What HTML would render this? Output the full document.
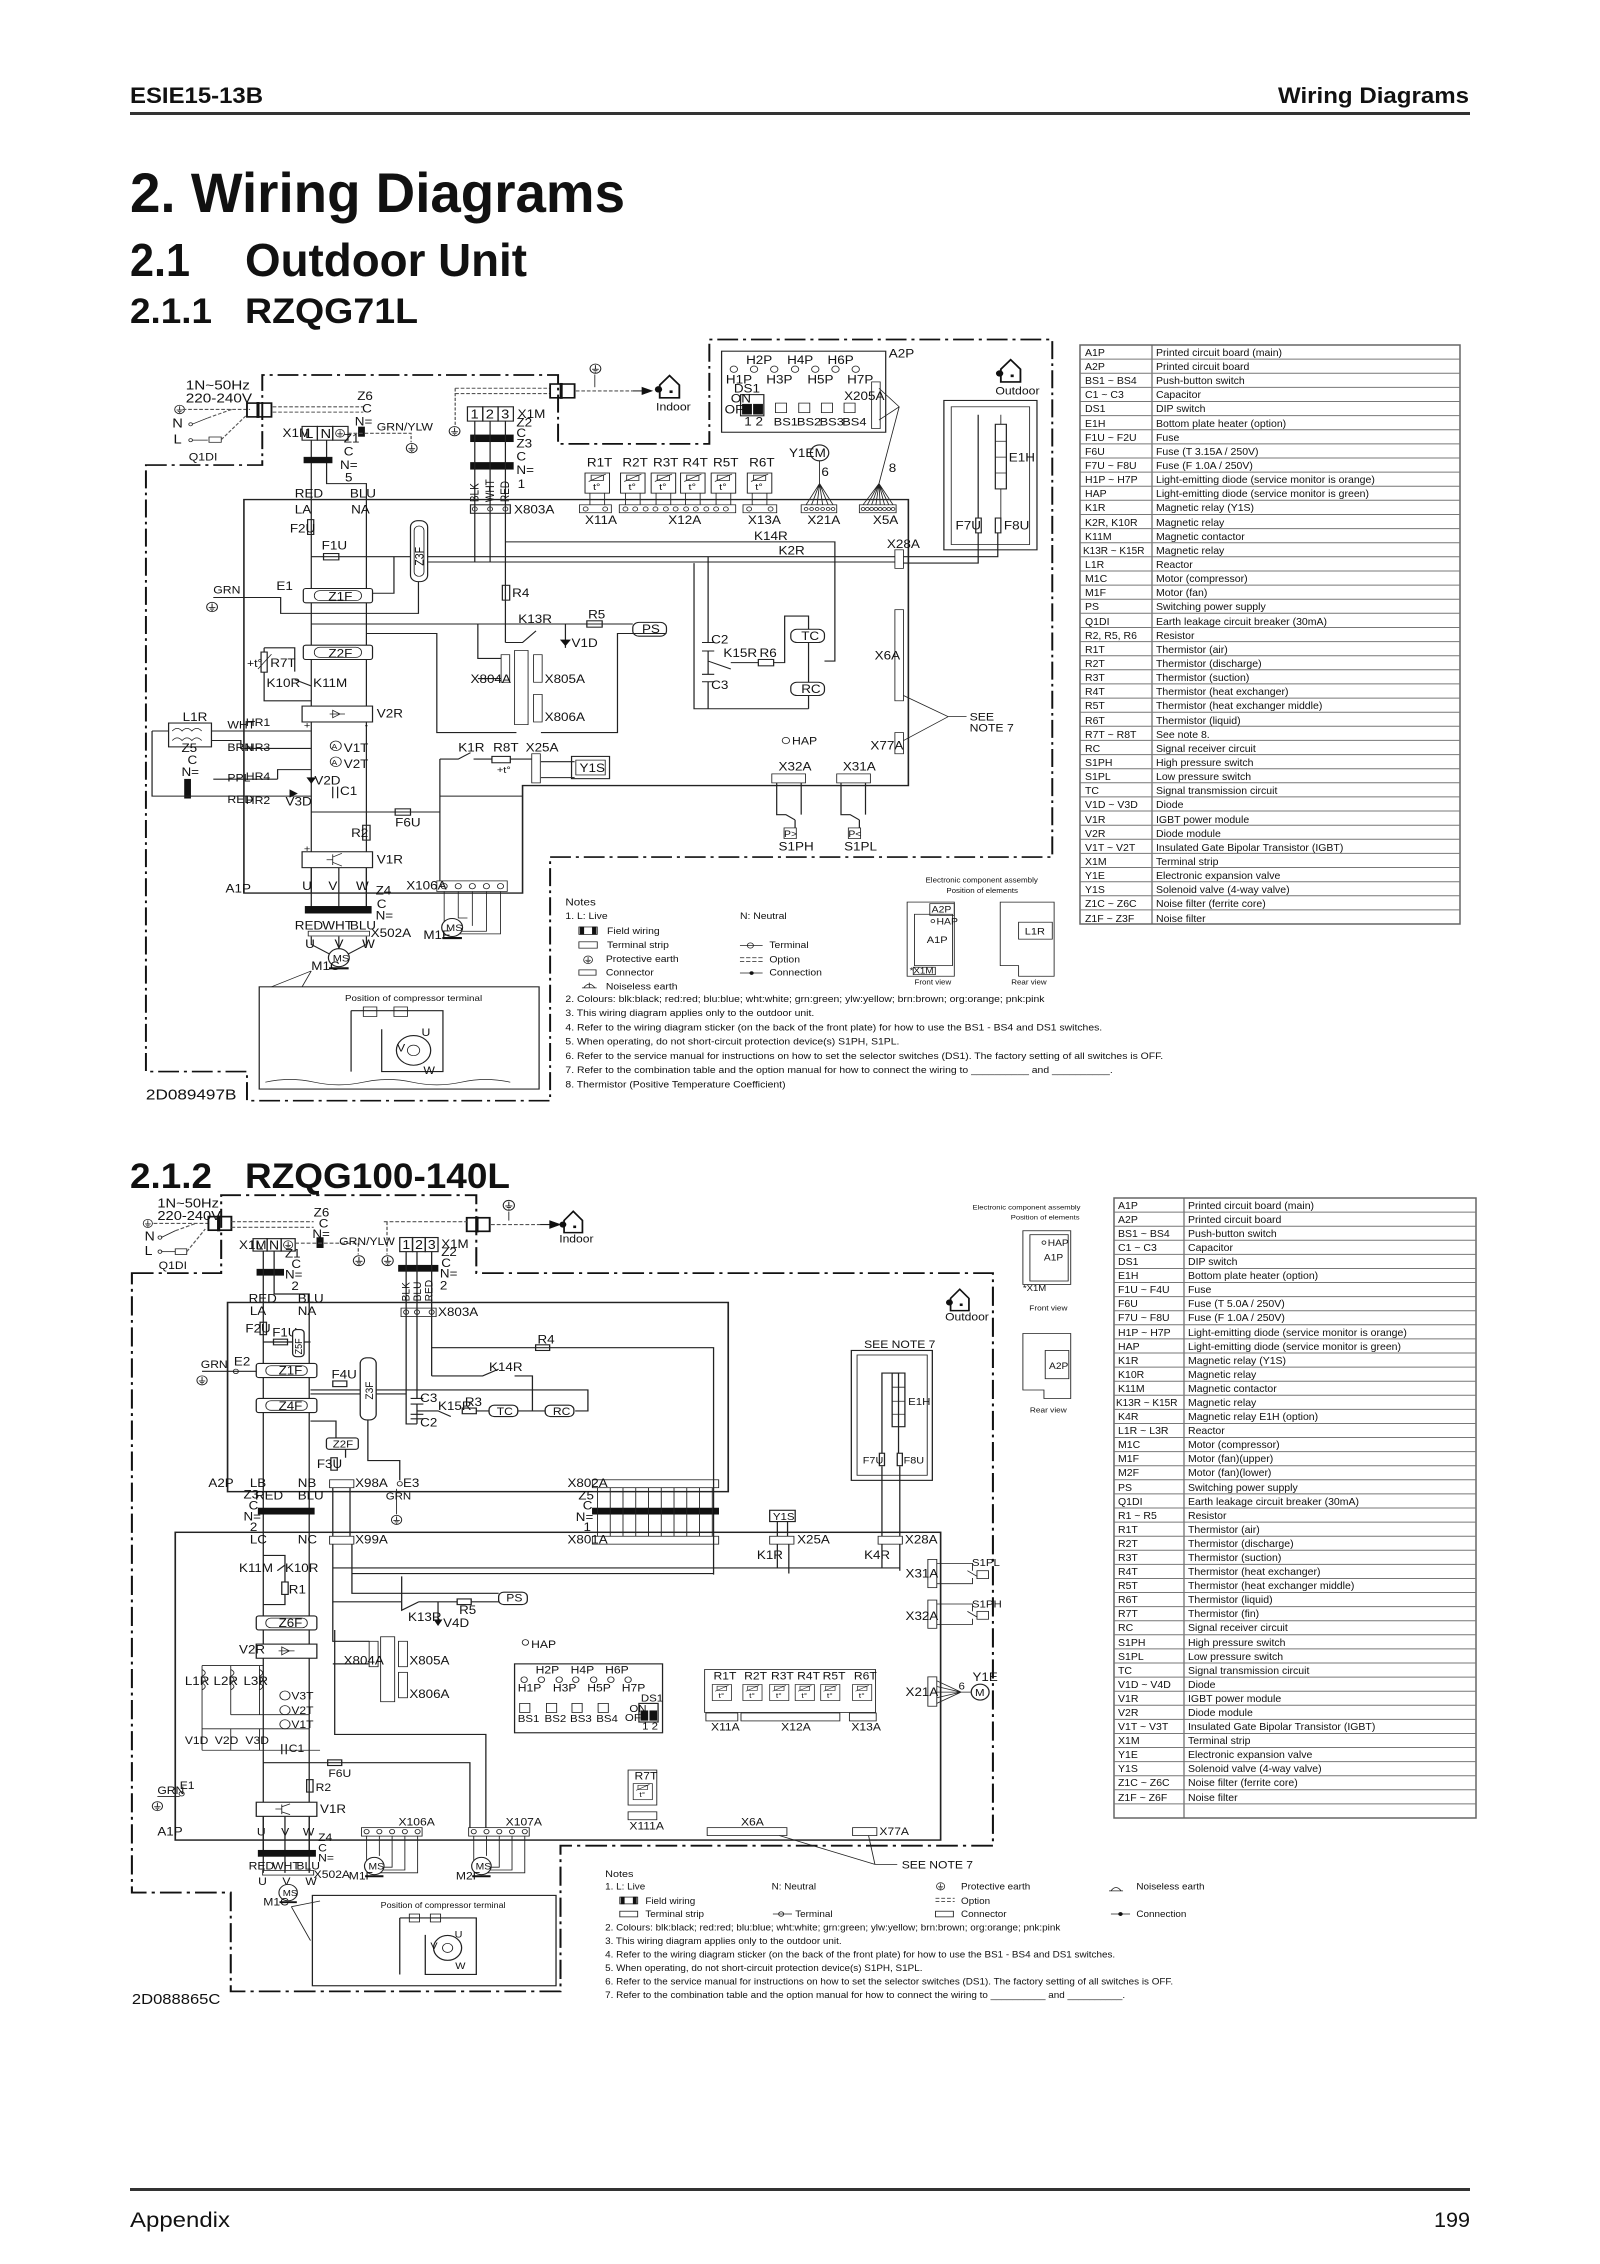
<!DOCTYPE html>
<html><head><meta charset="utf-8"><style>
html,body{margin:0;padding:0;background:#fff}
svg{display:block}
text{font-family:"Liberation Sans",Arial,sans-serif;fill:#111}
.w{stroke:#222;stroke-width:2;fill:none}
.t{stroke:#222;stroke-width:1.4;fill:none}
.b{fill:#111;stroke:#111}
.dd{stroke:#111;stroke-width:3.2;fill:none;stroke-dasharray:34 8 5 8}
.hd{stroke:#555;stroke-width:2;fill:none;stroke-dasharray:6 3}
.bd{stroke:#222;stroke-width:2.6;fill:none}
.cap{fill:#fff;stroke:#222;stroke-width:2}
</style></head><body>
<svg width="1600" height="2264" viewBox="0 0 1600 2264" xmlns="http://www.w3.org/2000/svg">
<defs>
<symbol id="earth" viewBox="-10 -10 20 20" overflow="visible"><circle cx="0" cy="0" r="8" fill="none" stroke="#222" stroke-width="1.5"/><line x1="0" y1="-6" x2="0" y2="1" stroke="#222" stroke-width="1.5"/><line x1="-5" y1="1" x2="5" y2="1" stroke="#222" stroke-width="1.5"/><line x1="-3" y1="3.5" x2="3" y2="3.5" stroke="#222" stroke-width="1.5"/><line x1="-1" y1="6" x2="1" y2="6" stroke="#222" stroke-width="1.5"/></symbol>
<symbol id="house" viewBox="0 0 44 50" overflow="visible"><path d="M6 22 L22 4 L38 22 V46 H6 Z" fill="none" stroke="#111" stroke-width="3"/><circle cx="4" cy="30" r="6" fill="#111"/><rect x="22" y="32" width="5" height="5" fill="#111"/></symbol>
<symbol id="therm" viewBox="0 0 40 40" overflow="visible"><rect x="0" y="0" width="40" height="38" fill="none" stroke="#222" stroke-width="1.6"/><rect x="10" y="4" width="20" height="10" fill="none" stroke="#222" stroke-width="1.4"/><line x1="6" y1="16" x2="34" y2="2" stroke="#222" stroke-width="1.4"/><text x="13" y="32" font-size="18">t°</text></symbol>
<symbol id="mot" viewBox="-20 -20 40 40" overflow="visible"><circle r="17" fill="#fff" stroke="#222" stroke-width="2"/><text x="-10" y="7" font-size="18">MS</text><line x1="-16" y1="20" x2="16" y2="20" stroke="#111" stroke-width="4"/></symbol>
</defs>

<!-- HEADER -->
<text x="130" y="103" font-size="22" font-weight="bold" textLength="133" lengthAdjust="spacingAndGlyphs">ESIE15-13B</text>
<text x="1278" y="103" font-size="22" font-weight="bold" textLength="191" lengthAdjust="spacingAndGlyphs">Wiring Diagrams</text>
<rect x="130" y="112" width="1340" height="3" fill="#333"/>
<text x="130" y="212" font-size="56" font-weight="bold" textLength="495" lengthAdjust="spacingAndGlyphs">2. Wiring Diagrams</text>
<text x="130" y="276" font-size="46" font-weight="bold" textLength="60" lengthAdjust="spacingAndGlyphs">2.1</text>
<text x="245" y="276" font-size="46" font-weight="bold" textLength="282" lengthAdjust="spacingAndGlyphs">Outdoor Unit</text>
<text x="130" y="323" font-size="35" font-weight="bold" textLength="82" lengthAdjust="spacingAndGlyphs">2.1.1</text>
<text x="245" y="323" font-size="35" font-weight="bold" textLength="173" lengthAdjust="spacingAndGlyphs">RZQG71L</text>
<text x="130" y="1188" font-size="35" font-weight="bold" textLength="82" lengthAdjust="spacingAndGlyphs">2.1.2</text>
<text x="245" y="1188" font-size="35" font-weight="bold" textLength="265" lengthAdjust="spacingAndGlyphs">RZQG100-140L</text>

<!-- FOOTER -->
<rect x="130" y="2188" width="1340" height="3" fill="#333"/>
<text x="130" y="2227" font-size="21" textLength="100" lengthAdjust="spacingAndGlyphs">Appendix</text>
<text x="1434" y="2227" font-size="21" textLength="36" lengthAdjust="spacingAndGlyphs">199</text>

<!-- TABLE 1 -->
<g font-size="10.5">
<rect x="1080" y="345" width="380" height="579" fill="none" stroke="#666" stroke-width="1.5"/>
<line x1="1152" y1="345" x2="1152" y2="924" stroke="#666" stroke-width="1.2"/>
<g stroke="#777" stroke-width="1">
<line x1="1080" y1="359.1" x2="1460" y2="359.1"/><line x1="1080" y1="373.2" x2="1460" y2="373.2"/><line x1="1080" y1="387.4" x2="1460" y2="387.4"/><line x1="1080" y1="401.5" x2="1460" y2="401.5"/><line x1="1080" y1="415.6" x2="1460" y2="415.6"/><line x1="1080" y1="429.7" x2="1460" y2="429.7"/><line x1="1080" y1="443.9" x2="1460" y2="443.9"/><line x1="1080" y1="458" x2="1460" y2="458"/><line x1="1080" y1="472.1" x2="1460" y2="472.1"/><line x1="1080" y1="486.2" x2="1460" y2="486.2"/><line x1="1080" y1="500.3" x2="1460" y2="500.3"/><line x1="1080" y1="514.5" x2="1460" y2="514.5"/><line x1="1080" y1="528.6" x2="1460" y2="528.6"/><line x1="1080" y1="542.7" x2="1460" y2="542.7"/><line x1="1080" y1="556.8" x2="1460" y2="556.8"/><line x1="1080" y1="571" x2="1460" y2="571"/><line x1="1080" y1="585.1" x2="1460" y2="585.1"/><line x1="1080" y1="599.2" x2="1460" y2="599.2"/><line x1="1080" y1="613.3" x2="1460" y2="613.3"/><line x1="1080" y1="627.5" x2="1460" y2="627.5"/><line x1="1080" y1="641.6" x2="1460" y2="641.6"/><line x1="1080" y1="655.7" x2="1460" y2="655.7"/><line x1="1080" y1="669.8" x2="1460" y2="669.8"/><line x1="1080" y1="683.9" x2="1460" y2="683.9"/><line x1="1080" y1="698.1" x2="1460" y2="698.1"/><line x1="1080" y1="712.2" x2="1460" y2="712.2"/><line x1="1080" y1="726.3" x2="1460" y2="726.3"/><line x1="1080" y1="740.4" x2="1460" y2="740.4"/><line x1="1080" y1="754.6" x2="1460" y2="754.6"/><line x1="1080" y1="768.7" x2="1460" y2="768.7"/><line x1="1080" y1="782.8" x2="1460" y2="782.8"/><line x1="1080" y1="796.9" x2="1460" y2="796.9"/><line x1="1080" y1="811" x2="1460" y2="811"/><line x1="1080" y1="825.2" x2="1460" y2="825.2"/><line x1="1080" y1="839.3" x2="1460" y2="839.3"/><line x1="1080" y1="853.4" x2="1460" y2="853.4"/><line x1="1080" y1="867.5" x2="1460" y2="867.5"/><line x1="1080" y1="881.7" x2="1460" y2="881.7"/><line x1="1080" y1="895.8" x2="1460" y2="895.8"/><line x1="1080" y1="909.9" x2="1460" y2="909.9"/>
</g>
<g>
<text x="1085" y="356">A1P</text><text x="1156" y="356">Printed circuit board (main)</text>
<text x="1085" y="370">A2P</text><text x="1156" y="370">Printed circuit board</text>
<text x="1085" y="384">BS1 ~ BS4</text><text x="1156" y="384">Push-button switch</text>
<text x="1085" y="398">C1 ~ C3</text><text x="1156" y="398">Capacitor</text>
<text x="1085" y="412">DS1</text><text x="1156" y="412">DIP switch</text>
<text x="1085" y="427">E1H</text><text x="1156" y="427">Bottom plate heater (option)</text>
<text x="1085" y="441">F1U ~ F2U</text><text x="1156" y="441">Fuse</text>
<text x="1085" y="455">F6U</text><text x="1156" y="455">Fuse (T 3.15A / 250V)</text>
<text x="1085" y="469">F7U ~ F8U</text><text x="1156" y="469">Fuse (F 1.0A / 250V)</text>
<text x="1085" y="483">H1P ~ H7P</text><text x="1156" y="483">Light-emitting diode (service monitor is orange)</text>
<text x="1085" y="497">HAP</text><text x="1156" y="497">Light-emitting diode (service monitor is green)</text>
<text x="1085" y="511">K1R</text><text x="1156" y="511">Magnetic relay (Y1S)</text>
<text x="1085" y="526">K2R, K10R</text><text x="1156" y="526">Magnetic relay</text>
<text x="1085" y="540">K11M</text><text x="1156" y="540">Magnetic contactor</text>
<text x="1083" y="554" font-size="10">K13R ~ K15R</text><text x="1156" y="554">Magnetic relay</text>
<text x="1085" y="568">L1R</text><text x="1156" y="568">Reactor</text>
<text x="1085" y="582">M1C</text><text x="1156" y="582">Motor (compressor)</text>
<text x="1085" y="596">M1F</text><text x="1156" y="596">Motor (fan)</text>
<text x="1085" y="610">PS</text><text x="1156" y="610">Switching power supply</text>
<text x="1085" y="625">Q1DI</text><text x="1156" y="625">Earth leakage circuit breaker (30mA)</text>
<text x="1085" y="639">R2, R5, R6</text><text x="1156" y="639">Resistor</text>
<text x="1085" y="653">R1T</text><text x="1156" y="653">Thermistor (air)</text>
<text x="1085" y="667">R2T</text><text x="1156" y="667">Thermistor (discharge)</text>
<text x="1085" y="681">R3T</text><text x="1156" y="681">Thermistor (suction)</text>
<text x="1085" y="695">R4T</text><text x="1156" y="695">Thermistor (heat exchanger)</text>
<text x="1085" y="709">R5T</text><text x="1156" y="709">Thermistor (heat exchanger middle)</text>
<text x="1085" y="724">R6T</text><text x="1156" y="724">Thermistor (liquid)</text>
<text x="1085" y="738">R7T ~ R8T</text><text x="1156" y="738">See note 8.</text>
<text x="1085" y="752">RC</text><text x="1156" y="752">Signal receiver circuit</text>
<text x="1085" y="766">S1PH</text><text x="1156" y="766">High pressure switch</text>
<text x="1085" y="780">S1PL</text><text x="1156" y="780">Low pressure switch</text>
<text x="1085" y="794">TC</text><text x="1156" y="794">Signal transmission circuit</text>
<text x="1085" y="808">V1D ~ V3D</text><text x="1156" y="808">Diode</text>
<text x="1085" y="823">V1R</text><text x="1156" y="823">IGBT power module</text>
<text x="1085" y="837">V2R</text><text x="1156" y="837">Diode module</text>
<text x="1085" y="851">V1T ~ V2T</text><text x="1156" y="851">Insulated Gate Bipolar Transistor (IGBT)</text>
<text x="1085" y="865">X1M</text><text x="1156" y="865">Terminal strip</text>
<text x="1085" y="879">Y1E</text><text x="1156" y="879">Electronic expansion valve</text>
<text x="1085" y="893">Y1S</text><text x="1156" y="893">Solenoid valve (4-way valve)</text>
<text x="1085" y="907">Z1C ~ Z6C</text><text x="1156" y="907">Noise filter (ferrite core)</text>
<text x="1085" y="922">Z1F ~ Z3F</text><text x="1156" y="922">Noise filter</text>
</g></g>

<!-- TABLE 2 -->
<g font-size="10.5">
<rect x="1114" y="1198" width="362" height="620" fill="none" stroke="#666" stroke-width="1.5"/>
<line x1="1184" y1="1198" x2="1184" y2="1818" stroke="#666" stroke-width="1.2"/>
<g stroke="#777" stroke-width="1">
<line x1="1114" y1="1212.1" x2="1476" y2="1212.1"/><line x1="1114" y1="1226.2" x2="1476" y2="1226.2"/><line x1="1114" y1="1240.3" x2="1476" y2="1240.3"/><line x1="1114" y1="1254.4" x2="1476" y2="1254.4"/><line x1="1114" y1="1268.5" x2="1476" y2="1268.5"/><line x1="1114" y1="1282.5" x2="1476" y2="1282.5"/><line x1="1114" y1="1296.6" x2="1476" y2="1296.6"/><line x1="1114" y1="1310.7" x2="1476" y2="1310.7"/><line x1="1114" y1="1324.8" x2="1476" y2="1324.8"/><line x1="1114" y1="1338.9" x2="1476" y2="1338.9"/><line x1="1114" y1="1353" x2="1476" y2="1353"/><line x1="1114" y1="1367.1" x2="1476" y2="1367.1"/><line x1="1114" y1="1381.2" x2="1476" y2="1381.2"/><line x1="1114" y1="1395.3" x2="1476" y2="1395.3"/><line x1="1114" y1="1409.4" x2="1476" y2="1409.4"/><line x1="1114" y1="1423.5" x2="1476" y2="1423.5"/><line x1="1114" y1="1437.5" x2="1476" y2="1437.5"/><line x1="1114" y1="1451.6" x2="1476" y2="1451.6"/><line x1="1114" y1="1465.7" x2="1476" y2="1465.7"/><line x1="1114" y1="1479.8" x2="1476" y2="1479.8"/><line x1="1114" y1="1493.9" x2="1476" y2="1493.9"/><line x1="1114" y1="1508" x2="1476" y2="1508"/><line x1="1114" y1="1522.1" x2="1476" y2="1522.1"/><line x1="1114" y1="1536.2" x2="1476" y2="1536.2"/><line x1="1114" y1="1550.3" x2="1476" y2="1550.3"/><line x1="1114" y1="1564.4" x2="1476" y2="1564.4"/><line x1="1114" y1="1578.5" x2="1476" y2="1578.5"/><line x1="1114" y1="1592.5" x2="1476" y2="1592.5"/><line x1="1114" y1="1606.6" x2="1476" y2="1606.6"/><line x1="1114" y1="1620.7" x2="1476" y2="1620.7"/><line x1="1114" y1="1634.8" x2="1476" y2="1634.8"/><line x1="1114" y1="1648.9" x2="1476" y2="1648.9"/><line x1="1114" y1="1663" x2="1476" y2="1663"/><line x1="1114" y1="1677.1" x2="1476" y2="1677.1"/><line x1="1114" y1="1691.2" x2="1476" y2="1691.2"/><line x1="1114" y1="1705.3" x2="1476" y2="1705.3"/><line x1="1114" y1="1719.4" x2="1476" y2="1719.4"/><line x1="1114" y1="1733.5" x2="1476" y2="1733.5"/><line x1="1114" y1="1747.5" x2="1476" y2="1747.5"/><line x1="1114" y1="1761.6" x2="1476" y2="1761.6"/><line x1="1114" y1="1775.7" x2="1476" y2="1775.7"/><line x1="1114" y1="1789.8" x2="1476" y2="1789.8"/><line x1="1114" y1="1803.9" x2="1476" y2="1803.9"/>
</g>
<g>
<text x="1118" y="1209">A1P</text><text x="1188" y="1209">Printed circuit board (main)</text>
<text x="1118" y="1223">A2P</text><text x="1188" y="1223">Printed circuit board</text>
<text x="1118" y="1237">BS1 ~ BS4</text><text x="1188" y="1237">Push-button switch</text>
<text x="1118" y="1251">C1 ~ C3</text><text x="1188" y="1251">Capacitor</text>
<text x="1118" y="1265">DS1</text><text x="1188" y="1265">DIP switch</text>
<text x="1118" y="1279">E1H</text><text x="1188" y="1279">Bottom plate heater (option)</text>
<text x="1118" y="1293">F1U ~ F4U</text><text x="1188" y="1293">Fuse</text>
<text x="1118" y="1307">F6U</text><text x="1188" y="1307">Fuse (T 5.0A / 250V)</text>
<text x="1118" y="1321">F7U ~ F8U</text><text x="1188" y="1321">Fuse (F 1.0A / 250V)</text>
<text x="1118" y="1336">H1P ~ H7P</text><text x="1188" y="1336">Light-emitting diode (service monitor is orange)</text>
<text x="1118" y="1350">HAP</text><text x="1188" y="1350">Light-emitting diode (service monitor is green)</text>
<text x="1118" y="1364">K1R</text><text x="1188" y="1364">Magnetic relay (Y1S)</text>
<text x="1118" y="1378">K10R</text><text x="1188" y="1378">Magnetic relay</text>
<text x="1118" y="1392">K11M</text><text x="1188" y="1392">Magnetic contactor</text>
<text x="1116" y="1406" font-size="10">K13R ~ K15R</text><text x="1188" y="1406">Magnetic relay</text>
<text x="1118" y="1420">K4R</text><text x="1188" y="1420">Magnetic relay E1H (option)</text>
<text x="1118" y="1434">L1R ~ L3R</text><text x="1188" y="1434">Reactor</text>
<text x="1118" y="1448">M1C</text><text x="1188" y="1448">Motor (compressor)</text>
<text x="1118" y="1462">M1F</text><text x="1188" y="1462">Motor (fan)(upper)</text>
<text x="1118" y="1476">M2F</text><text x="1188" y="1476">Motor (fan)(lower)</text>
<text x="1118" y="1491">PS</text><text x="1188" y="1491">Switching power supply</text>
<text x="1118" y="1505">Q1DI</text><text x="1188" y="1505">Earth leakage circuit breaker (30mA)</text>
<text x="1118" y="1519">R1 ~ R5</text><text x="1188" y="1519">Resistor</text>
<text x="1118" y="1533">R1T</text><text x="1188" y="1533">Thermistor (air)</text>
<text x="1118" y="1547">R2T</text><text x="1188" y="1547">Thermistor (discharge)</text>
<text x="1118" y="1561">R3T</text><text x="1188" y="1561">Thermistor (suction)</text>
<text x="1118" y="1575">R4T</text><text x="1188" y="1575">Thermistor (heat exchanger)</text>
<text x="1118" y="1589">R5T</text><text x="1188" y="1589">Thermistor (heat exchanger middle)</text>
<text x="1118" y="1603">R6T</text><text x="1188" y="1603">Thermistor (liquid)</text>
<text x="1118" y="1617">R7T</text><text x="1188" y="1617">Thermistor (fin)</text>
<text x="1118" y="1631">RC</text><text x="1188" y="1631">Signal receiver circuit</text>
<text x="1118" y="1646">S1PH</text><text x="1188" y="1646">High pressure switch</text>
<text x="1118" y="1660">S1PL</text><text x="1188" y="1660">Low pressure switch</text>
<text x="1118" y="1674">TC</text><text x="1188" y="1674">Signal transmission circuit</text>
<text x="1118" y="1688">V1D ~ V4D</text><text x="1188" y="1688">Diode</text>
<text x="1118" y="1702">V1R</text><text x="1188" y="1702">IGBT power module</text>
<text x="1118" y="1716">V2R</text><text x="1188" y="1716">Diode module</text>
<text x="1118" y="1730">V1T ~ V3T</text><text x="1188" y="1730">Insulated Gate Bipolar Transistor (IGBT)</text>
<text x="1118" y="1744">X1M</text><text x="1188" y="1744">Terminal strip</text>
<text x="1118" y="1758">Y1E</text><text x="1188" y="1758">Electronic expansion valve</text>
<text x="1118" y="1772">Y1S</text><text x="1188" y="1772">Solenoid valve (4-way valve)</text>
<text x="1118" y="1786">Z1C ~ Z6C</text><text x="1188" y="1786">Noise filter (ferrite core)</text>
<text x="1118" y="1801">Z1F ~ Z6F</text><text x="1188" y="1801">Noise filter</text>
<text x="1118" y="1815"></text>
</g></g>

<!-- ============ DIAGRAM 1 ============ -->
<g transform="translate(100,330) scale(0.6124,0.5297)" font-size="22">
<path class="dd" d="M75 255 H265 V85 H748 V215 H995 V18 H1555 V995 H735 V1455 H240 V1400 H75 Z"/>
<!-- supply -->
<text x="140" y="112" font-size="25">1N~50Hz</text><text x="140" y="137" font-size="25">220-240V</text>
<use href="#earth" x="120" y="140" width="20" height="20"/>
<text x="118" y="184" font-size="24">N</text><text x="120" y="214" font-size="24">L</text>
<circle cx="148" cy="178" r="3" class="t"/><circle cx="148" cy="208" r="3" class="t"/>
<line class="t" x1="150" y1="178" x2="176" y2="166"/><line class="t" x1="150" y1="208" x2="176" y2="208"/>
<rect class="t" x="178" y="202" width="20" height="10"/>
<path class="hd" d="M135 150 H245 M176 166 L215 150 M198 207 L240 160"/>
<text x="145" y="246" font-size="20">Q1DI</text>
<rect x="240" y="138" width="40" height="26" fill="none" stroke="#111" stroke-width="3"/><line x1="258" y1="136" x2="258" y2="166" stroke="#111" stroke-width="5"/>
<path class="hd" d="M282 145 H430 M282 155 H430"/>
<!-- X1M -->
<text x="298" y="202">X1M</text>
<rect class="w" x="330" y="182" width="25" height="26"/><rect class="w" x="355" y="182" width="25" height="26"/><rect class="w" x="380" y="182" width="25" height="26"/>
<text x="335" y="204" font-size="24">L</text><text x="360" y="204" font-size="24">N</text><use href="#earth" x="383" y="186" width="18" height="18"/>
<text x="420" y="132">Z6</text><text x="428" y="156">C</text><text x="416" y="180">N=</text>
<rect class="b" x="422" y="183" width="10" height="18"/>
<path class="hd" d="M405 195 H508 V212"/><text x="452" y="190" font-size="20">GRN/YLW</text>
<use href="#earth" x="498" y="212" width="22" height="22"/>
<path class="w" d="M345 208 V1063 M370 208 V290 H435 V1090"/>
<rect class="b" x="333" y="240" width="46" height="11"/>
<text x="398" y="212">Z1</text><text x="398" y="237">C</text><text x="392" y="262">N=</text><text x="400" y="286">5</text>
<text x="318" y="316">RED</text><text x="408" y="316">BLU</text><text x="318" y="346">LA</text><text x="410" y="346">NA</text>
<!-- indoor cable -->
<use href="#earth" x="798" y="62" width="22" height="22"/><line class="t" x1="808" y1="84" x2="808" y2="108"/>
<path class="hd" d="M580 110 H735 M580 120 H735 M580 110 V180"/>
<use href="#earth" x="568" y="180" width="22" height="22"/>
<rect x="735" y="102" width="40" height="26" fill="none" stroke="#111" stroke-width="3"/><line x1="753" y1="100" x2="753" y2="130" stroke="#111" stroke-width="5"/>
<path class="hd" d="M777 115 H870"/><path class="w" d="M870 115 H885"/><path class="b" d="M885 108 L902 115 L885 122 Z"/>
<use href="#house" x="908" y="82" width="44" height="50"/><text x="908" y="152" font-size="20">Indoor</text>
<!-- terminal strip 123 -->
<rect class="w" x="600" y="145" width="25" height="27"/><rect class="w" x="625" y="145" width="25" height="27"/><rect class="w" x="650" y="145" width="25" height="27"/>
<text x="605" y="167" font-size="24">1</text><text x="630" y="167" font-size="24">2</text><text x="655" y="167" font-size="24">3</text>
<text x="682" y="166">X1M</text><text x="680" y="182">Z2</text><text x="680" y="202">C</text><text x="680" y="222">Z3</text><text x="680" y="246">C</text><text x="680" y="272">N=</text><text x="682" y="298">1</text>
<rect class="b" x="605" y="198" width="70" height="13"/><rect class="b" x="605" y="250" width="70" height="13"/>
<path class="w" d="M612 172 V438 M637 172 V438 M662 172 V590"/>
<text transform="translate(618,325) rotate(-90)" font-size="19">BLK</text><text transform="translate(643,325) rotate(-90)" font-size="19">WHT</text><text transform="translate(668,325) rotate(-90)" font-size="19">RED</text>
<rect class="w" x="605" y="330" width="65" height="16" fill="#fff"/><circle cx="612" cy="338" r="4" class="t"/><circle cx="637" cy="338" r="4" class="t"/><circle cx="662" cy="338" r="4" class="t"/>
<text x="676" y="346">X803A</text>
<!-- board -->
<path class="bd" d="M235 320 H1320 V860 H690 V1063 H235 Z"/>
<!-- top connectors -->
<g class="t">
<rect x="783" y="330" width="52" height="15"/><circle cx="793" cy="338" r="4"/><circle cx="825" cy="338" r="4"/>
<rect x="848" y="330" width="190" height="15"/><circle cx="858" cy="338" r="4"/><circle cx="874" cy="338" r="4"/><circle cx="891" cy="338" r="4"/><circle cx="907" cy="338" r="4"/><circle cx="924" cy="338" r="4"/><circle cx="940" cy="338" r="4"/><circle cx="957" cy="338" r="4"/><circle cx="973" cy="338" r="4"/><circle cx="990" cy="338" r="4"/><circle cx="1006" cy="338" r="4"/><circle cx="1022" cy="338" r="4"/>
<rect x="1050" y="330" width="55" height="15"/><circle cx="1060" cy="338" r="4"/><circle cx="1095" cy="338" r="4"/>
<rect x="1145" y="330" width="58" height="15"/><circle cx="1153" cy="338" r="3"/><circle cx="1162" cy="338" r="3"/><circle cx="1171" cy="338" r="3"/><circle cx="1180" cy="338" r="3"/><circle cx="1189" cy="338" r="3"/><circle cx="1197" cy="338" r="3"/>
<rect x="1240" y="330" width="60" height="15"/><circle cx="1246" cy="338" r="3"/><circle cx="1253" cy="338" r="3"/><circle cx="1260" cy="338" r="3"/><circle cx="1267" cy="338" r="3"/><circle cx="1274" cy="338" r="3"/><circle cx="1281" cy="338" r="3"/><circle cx="1288" cy="338" r="3"/><circle cx="1295" cy="338" r="3"/>
</g>
<text x="792" y="366">X11A</text><text x="928" y="366">X12A</text><text x="1058" y="366">X13A</text><text x="1155" y="366">X21A</text><text x="1262" y="366">X5A</text>
<use href="#therm" x="792" y="270" width="40" height="40"/><use href="#therm" x="850" y="270" width="40" height="40"/><use href="#therm" x="900" y="270" width="40" height="40"/><use href="#therm" x="948" y="270" width="40" height="40"/><use href="#therm" x="998" y="270" width="40" height="40"/><use href="#therm" x="1057" y="270" width="40" height="40"/>
<text x="795" y="258">R1T</text><text x="853" y="258">R2T</text><text x="903" y="258">R3T</text><text x="951" y="258">R4T</text><text x="1001" y="258">R5T</text><text x="1060" y="258">R6T</text>
<path class="t" d="M800 308 V330 M824 308 V330 M858 308 V330 M882 308 V330 M908 308 V330 M932 308 V330 M956 308 V330 M980 308 V330 M1006 308 V330 M1030 308 V330 M1065 308 V330 M1089 308 V330"/>
<circle cx="1175" cy="232" r="15" fill="none" stroke="#222" stroke-width="2"/><text x="1167" y="240">M</text><text x="1125" y="240">Y1E</text>
<path class="t" d="M1175 247 V290 M1175 290 L1153 330 M1175 290 L1162 330 M1175 290 L1171 330 M1175 290 L1180 330 M1175 290 L1189 330 M1175 290 L1197 330"/><text x="1178" y="276">6</text>
<path class="t" d="M1272 290 L1246 330 M1272 290 L1253 330 M1272 290 L1260 330 M1272 290 L1267 330 M1272 290 L1274 330 M1272 290 L1281 330 M1272 290 L1288 330 M1272 290 L1295 330 M1272 290 L1305 145 L1272 110 M1305 145 L1272 170"/><text x="1288" y="268">8</text>
<!-- A2P -->
<rect class="w" x="1015" y="40" width="268" height="153"/><text x="1288" y="52">A2P</text>
<text x="1055" y="64">H2P</text><text x="1122" y="64">H4P</text><text x="1188" y="64">H6P</text>
<g class="t"><circle cx="1035" cy="74" r="6"/><circle cx="1068" cy="74" r="6"/><circle cx="1101" cy="74" r="6"/><circle cx="1135" cy="74" r="6"/><circle cx="1168" cy="74" r="6"/><circle cx="1201" cy="74" r="6"/><circle cx="1234" cy="74" r="6"/></g>
<text x="1022" y="101">H1P</text><text x="1088" y="101">H3P</text><text x="1155" y="101">H5P</text><text x="1220" y="101">H7P</text>
<text x="1035" y="118">DS1</text><rect class="w" x="1046" y="122" width="38" height="40"/><rect class="b" x="1049" y="140" width="15" height="19"/><rect class="b" x="1067" y="140" width="15" height="19"/>
<text x="1030" y="137">ON</text><text x="1020" y="158">OF</text><text x="1052" y="180">1 2</text>
<g class="t"><rect x="1103" y="138" width="18" height="18"/><rect x="1141" y="138" width="18" height="18"/><rect x="1178" y="138" width="18" height="18"/><rect x="1215" y="138" width="18" height="18"/></g>
<text x="1100" y="180" font-size="21">BS1</text><text x="1138" y="180" font-size="21">BS2</text><text x="1175" y="180" font-size="21">BS3</text><text x="1212" y="180" font-size="21">BS4</text>
<rect class="t" x="1260" y="98" width="14" height="88" fill="#fff"/><text x="1215" y="132">X205A</text>
<use href="#house" x="1465" y="52" width="44" height="50"/><text x="1462" y="122" font-size="20">Outdoor</text>
<!-- E1H -->
<rect class="w" x="1378" y="133" width="152" height="282"/><rect class="t" x="1390" y="145" width="128" height="260"/>
<rect class="w" x="1462" y="178" width="18" height="122" fill="#fff"/><path class="t" d="M1462 210 H1480 M1462 240 H1480 M1462 270 H1480 M1471 160 V178 M1471 300 V355"/>
<text x="1484" y="248">E1H</text>
<rect class="w" x="1430" y="355" width="9" height="28"/><rect class="w" x="1462" y="355" width="9" height="28"/>
<text x="1397" y="377">F7U</text><text x="1476" y="377">F8U</text>
<path class="w" d="M1434 160 V355 M1434 383 V440 H1312 M1466 383 V428 H1312"/>
<!-- main wires -->
<path class="w" d="M345 428 H1298 M535 438 H1298"/>
<rect class="w" x="365" y="422" width="25" height="12" fill="#fff"/><text x="362" y="414">F1U</text>
<rect class="w" x="339" y="358" width="10" height="28" fill="#fff"/><text x="310" y="382">F2U</text>
<rect class="cap" x="507" y="360" width="28" height="115" rx="12"/><rect class="t" x="513" y="370" width="16" height="95" rx="8"/><text transform="translate(528,445) rotate(-90)" font-size="20">Z3F</text>
<rect class="cap" x="332" y="488" width="113" height="27" rx="4"/><rect class="t" x="350" y="492" width="77" height="19" rx="9"/><text x="373" y="511">Z1F</text>
<rect class="cap" x="332" y="595" width="113" height="27" rx="4"/><rect class="t" x="350" y="599" width="77" height="19" rx="9"/><text x="373" y="618">Z2F</text>
<text x="185" y="497" font-size="20">GRN</text><use href="#earth" x="172" y="512" width="22" height="22"/>
<path class="w" d="M185 505 H295 V535 H520 V475 M445 497 H480 V428"/><text x="288" y="491">E1</text>
<path class="w" d="M662 400 H1200 V625 H1183"/><rect class="w" x="657" y="482" width="12" height="28" fill="#fff"/><text x="673" y="504">R4</text>
<text x="1068" y="396">K14R</text><text x="1108" y="424">K2R</text><text x="1285" y="412">X28A</text>
<rect class="t" x="1298" y="415" width="14" height="35" fill="#fff"/>
<path class="w" d="M345 555 H870 M662 590 H690 L712 568 M760 555 V600"/>
<text x="683" y="553">K13R</text><rect class="w" x="795" y="549" width="25" height="12" fill="#fff"/><text x="797" y="545">R5</text>
<rect class="cap" x="870" y="552" width="55" height="26" rx="10"/><text x="885" y="572">PS</text>
<path class="b" d="M752 585 L768 585 L760 596 Z"/><text x="770" y="598">V1D</text>
<path class="w" d="M435 573 H550 V760 H680 M925 573 H845 V760 H720 M617 555 V620 H655 M617 658 H655"/>
<rect class="t" x="655" y="613" width="14" height="52" fill="#fff"/><rect class="t" x="708" y="613" width="14" height="52" fill="#fff"/><rect class="t" x="708" y="688" width="14" height="52" fill="#fff"/><rect class="t" x="677" y="605" width="22" height="140"/>
<text x="605" y="666">X804A</text><text x="726" y="666">X805A</text><text x="726" y="738">X806A</text>
<path class="w" d="M970 440 V715 H1157 M993 428 V590 M993 606 V650 M993 664 V715 M993 625 L1030 640 M1030 628 H1075 M1100 628 H1118 V540 H1157 V565 M1157 590 V665 M1157 690 V715"/>
<path class="w" d="M983 590 H1003 M983 606 H1003 M983 650 H1003 M983 664 H1003"/>
<text x="998" y="592">C2</text><text x="998" y="678">C3</text><text x="1018" y="617">K15R</text>
<rect class="w" x="1075" y="622" width="25" height="12" fill="#fff"/><text x="1077" y="617">R6</text>
<rect class="cap" x="1128" y="565" width="55" height="25" rx="10"/><text x="1145" y="585">TC</text>
<rect class="cap" x="1128" y="665" width="55" height="25" rx="10"/><text x="1145" y="685">RC</text>
<rect class="t" x="1298" y="528" width="14" height="172" fill="#fff"/><text x="1265" y="622">X6A</text>
<rect class="t" x="1298" y="760" width="14" height="40" fill="#fff"/><text x="1258" y="792">X77A</text>
<path class="t" d="M1312 690 L1385 730 L1312 775 M1385 730 H1415"/><text x="1420" y="737" font-size="20">SEE</text><text x="1420" y="758" font-size="20">NOTE 7</text>
<circle class="t" cx="1120" cy="775" r="6"/><text x="1130" y="783" font-size="20">HAP</text>
<rect class="t" x="1097" y="838" width="55" height="17" fill="#fff"/><rect class="t" x="1203" y="838" width="55" height="17" fill="#fff"/>
<text x="1108" y="832">X32A</text><text x="1213" y="832">X31A</text>
<path class="w" d="M1105 855 V915 H1120 L1135 925 M1145 855 V915 M1135 925 V940 M1210 855 V915 H1225 L1240 925 M1250 855 V915 M1240 925 V940"/>
<rect class="t" x="1117" y="940" width="20" height="20"/><text x="1117" y="957" font-size="17">P&gt;</text><text x="1108" y="983">S1PH</text>
<rect class="t" x="1222" y="940" width="20" height="20"/><text x="1222" y="957" font-size="17">P&lt;</text><text x="1215" y="983">S1PL</text>
<!-- left lower -->
<rect class="w" x="112" y="742" width="70" height="45"/><path class="t" d="M118 757 q8 -10 16 0 q8 -10 16 0 q8 -10 16 0 M118 775 q8 -10 16 0 q8 -10 16 0 q8 -10 16 0"/>
<text x="135" y="738">L1R</text><text x="133" y="797">Z5</text><text x="143" y="819">C</text><text x="133" y="842">N=</text>
<rect class="b" x="138" y="848" width="10" height="36"/>
<path class="w" d="M182 757 H345 M182 775 H230 V790 H345 M85 757 H112 M85 757 V880 H345 M290 848 V830 H345 M185 848 H290"/>
<text x="208" y="752" font-size="20">WHT</text><text x="238" y="748" font-size="20">HR1</text>
<text x="208" y="795" font-size="20">BRN</text><text x="238" y="795" font-size="20">HR3</text>
<text x="208" y="852" font-size="20">PPL</text><text x="238" y="850" font-size="20">HR4</text>
<text x="208" y="893" font-size="20">RED</text><text x="238" y="895" font-size="20">HR2</text>
<rect class="cap" x="330" y="710" width="115" height="30"/><path class="t" d="M375 725 H400 M380 718 V732 L392 725 Z"/><text x="452" y="732">V2R</text>
<text x="333" y="752" font-size="18">+</text><text x="432" y="752" font-size="18">-</text>
<path class="w" d="M268 600 H318 V645 M268 600 V608 M268 646 V700 H345 M318 660 L345 672"/>
<rect class="w" x="263" y="608" width="10" height="38"/><line class="t" x1="258" y1="640" x2="280" y2="612"/>
<text x="240" y="636" font-size="20">+t°</text><text x="278" y="636">R7T</text><text x="272" y="674">K10R</text><text x="348" y="674">K11M</text>
<circle class="t" cx="385" cy="785" r="9"/><text x="378" y="791" font-size="14">A</text><text x="398" y="797">V1T</text>
<circle class="t" cx="385" cy="815" r="9"/><text x="378" y="821" font-size="14">A</text><text x="398" y="827">V2T</text>
<path class="b" d="M338 845 L352 845 L345 856 Z"/><text x="350" y="858">V2D</text>
<path class="w" d="M380 862 V884 M388 862 V884"/><text x="392" y="878">C1</text>
<path class="b" d="M310 868 L310 882 L322 875 Z"/><text x="303" y="898">V3D</text>
<path class="w" d="M345 910 H555"/><rect class="w" x="482" y="904" width="25" height="12" fill="#fff"/><text x="482" y="937">F6U</text>
<rect class="w" x="429" y="935" width="12" height="28" fill="#fff"/><text x="410" y="957">R2</text>
<rect class="cap" x="330" y="985" width="115" height="30"/><path class="t" d="M380 990 V1010 M370 1000 H380 M380 995 L395 988 M380 1005 L395 1012"/><text x="452" y="1007">V1R</text>
<text x="333" y="985" font-size="18">+</text>
<path class="w" d="M345 1015 V1090 M390 1015 V1090 M435 1015 V1090"/>
<text x="330" y="1057">U</text><text x="373" y="1057">V</text><text x="418" y="1057">W</text><text x="205" y="1062">A1P</text>
<path class="w" d="M555 810 H585 L605 798 M610 810 H640 M670 810 H705 M555 810 V1040 M720 815 H775 M720 845 H775 M555 880 H690"/>
<text x="585" y="796">K1R</text><rect class="w" x="640" y="805" width="30" height="12" fill="#fff"/><text x="642" y="796">R8T</text><text x="648" y="836" font-size="18">+t°</text>
<text x="695" y="796">X25A</text><rect class="t" x="705" y="800" width="14" height="55" fill="#fff"/>
<rect class="w" x="770" y="805" width="62" height="42"/><rect class="t" x="777" y="812" width="48" height="28"/><text x="783" y="834">Y1S</text>
<rect class="t" x="550" y="1040" width="115" height="20" fill="#fff"/><g class="t"><circle cx="562" cy="1050" r="5"/><circle cx="585" cy="1050" r="5"/><circle cx="608" cy="1050" r="5"/><circle cx="631" cy="1050" r="5"/><circle cx="654" cy="1050" r="5"/></g>
<text x="500" y="1056">X106A</text>
<path class="t" d="M562 1060 V1120 M585 1060 V1110 H600 M608 1060 V1125 M631 1060 V1135 H590 M654 1060 V1140 H585"/>
<use href="#mot" x="555" y="1108" width="40" height="40"/><text x="528" y="1150">M1F</text>
<rect class="b" x="335" y="1088" width="108" height="13"/>
<text x="450" y="1066">Z4</text><text x="452" y="1091">C</text><text x="450" y="1113">N=</text>
<text x="318" y="1132">RED</text><text x="363" y="1132">WHT</text><text x="408" y="1132">BLU</text>
<rect class="t" x="340" y="1135" width="100" height="9"/><text x="442" y="1146">X502A</text>
<text x="335" y="1167">U</text><text x="383" y="1167">V</text><text x="428" y="1167">W</text>
<path class="w" d="M345 1145 V1160 L378 1180 M390 1145 V1168 M435 1145 V1160 L402 1180"/>
<use href="#mot" x="370" y="1165" width="40" height="40"/><text x="345" y="1208">M1C</text>
<path class="t" d="M345 1210 L280 1240 M345 1210 L330 1240"/>
<rect class="w" x="260" y="1240" width="457" height="193"/>
<text x="400" y="1267" font-size="16">Position of compressor terminal</text>
<path class="w" d="M410 1285 H560 V1400 H460 V1320 M410 1285 V1400"/>
<rect class="t" x="430" y="1278" width="22" height="18"/><rect class="t" x="480" y="1278" width="22" height="18"/>
<circle class="w" cx="512" cy="1360" r="28"/><circle class="t" cx="512" cy="1360" r="10"/>
<text x="525" y="1333" font-size="20">U</text><text x="485" y="1362" font-size="20">V</text><text x="528" y="1405" font-size="20">W</text>
<path class="t" d="M270 1420 q40 -10 80 0 t80 0 t80 0 t80 0 t80 0"/>
<text x="75" y="1453" font-size="28">2D089497B</text>
<!-- notes -->
<g font-size="17">
<text x="760" y="1086" font-size="19">Notes</text>
<text x="760" y="1112">1.  L: Live</text><text x="1045" y="1112">N: Neutral</text>
<rect class="t" x="782" y="1127" width="30" height="14"/><rect class="b" x="784" y="1127" width="6" height="14"/><rect class="b" x="804" y="1127" width="6" height="14"/><text x="828" y="1140">Field wiring</text>
<rect class="t" x="782" y="1155" width="30" height="12"/><text x="828" y="1167">Terminal strip</text>
<circle class="t" cx="1062" cy="1162" r="5"/><line class="t" x1="1045" y1="1162" x2="1082" y2="1162"/><text x="1093" y="1167">Terminal</text>
<use href="#earth" x="788" y="1180" width="18" height="18"/><text x="826" y="1193">Protective earth</text>
<path class="t" d="M1045 1185 H1082 M1045 1192 H1082" stroke-dasharray="7 3"/><text x="1093" y="1194">Option</text>
<rect class="t" x="782" y="1208" width="28" height="10"/><text x="826" y="1219">Connector</text>
<line class="t" x1="1045" y1="1214" x2="1082" y2="1214"/><circle class="b" cx="1064" cy="1214" r="3"/><text x="1093" y="1219">Connection</text>
<path class="t" d="M787 1242 H811 M790 1242 q9 -14 18 0 M799 1232 V1242"/><text x="826" y="1245">Noiseless earth</text>
<text x="760" y="1269">2.  Colours: blk:black; red:red; blu:blue; wht:white; grn:green; ylw:yellow; brn:brown; org:orange; pnk:pink</text>
<text x="760" y="1295">3.  This wiring diagram applies only to the outdoor unit.</text>
<text x="760" y="1322">4.  Refer to the wiring diagram sticker (on the back of the front plate) for how to use the BS1 - BS4 and DS1 switches.</text>
<text x="760" y="1349">5.  When operating, do not short-circuit protection device(s) S1PH, S1PL.</text>
<text x="760" y="1376">6.  Refer to the service manual for instructions on how to set the selector switches (DS1). The factory setting of all switches is OFF.</text>
<text x="760" y="1403">7.  Refer to the combination table and the option manual for how to connect the wiring to __________ and __________.</text>
<text x="760" y="1430">8.  Thermistor (Positive Temperature Coefficient)</text>
</g>
<text x="1348" y="1043" font-size="13">Electronic component assembly</text><text x="1382" y="1063" font-size="13">Position of elements</text>
<rect class="t" x="1318" y="1080" width="77" height="140"/><rect class="t" x="1330" y="1103" width="62" height="97"/>
<rect class="t" x="1355" y="1083" width="40" height="22" fill="#fff"/><text x="1358" y="1100" font-size="17">A2P</text>
<circle class="t" cx="1360" cy="1116" r="3"/><text x="1366" y="1122" font-size="17">HAP</text><text x="1350" y="1157" font-size="18">A1P</text>
<rect class="t" x="1328" y="1203" width="36" height="14"/><text x="1322" y="1215" font-size="16">*X1M</text>
<text x="1330" y="1236" font-size="13">Front view</text>
<path class="t" d="M1470 1080 H1558 V1220 H1500 V1200 H1470 Z"/><rect class="t" x="1500" y="1118" width="55" height="32"/><text x="1510" y="1141" font-size="18">L1R</text>
<text x="1488" y="1236" font-size="13">Rear view</text>
</g>

<!-- ============ DIAGRAM 2 ============ -->
<g transform="translate(100,1150) scale(0.6378,0.5647)" font-size="21">
<path class="dd" d="M50 218 H190 V80 H590 V218 H1400 V1232 H722 V1490 H205 V1315 H50 Z"/>
<text x="90" y="102" font-size="23">1N~50Hz</text><text x="90" y="124" font-size="23">220-240V</text>
<use href="#earth" x="66" y="121" width="18" height="18"/>
<text x="70" y="160" font-size="22">N</text><text x="70" y="186" font-size="22">L</text>
<circle class="t" cx="94" cy="155" r="3"/><circle class="t" cx="94" cy="180" r="3"/>
<line class="t" x1="96" y1="155" x2="118" y2="143"/><line class="t" x1="96" y1="180" x2="118" y2="180"/><rect class="t" x="118" y="175" width="18" height="10"/>
<path class="hd" d="M84 130 H170 M118 143 L150 130 M136 180 L165 140"/>
<text x="92" y="211" font-size="19">Q1DI</text>
<rect x="170" y="118" width="36" height="24" fill="none" stroke="#111" stroke-width="3"/><line x1="186" y1="116" x2="186" y2="144" stroke="#111" stroke-width="5"/>
<path class="hd" d="M206 127 H335 M206 137 H335"/>
<text x="218" y="175">X1M</text>
<rect class="w" x="240" y="157" width="22" height="22"/><rect class="w" x="262" y="157" width="22" height="22"/><rect class="w" x="284" y="157" width="22" height="22"/>
<text x="244" y="176" font-size="22">L</text><text x="265" y="176" font-size="22">N</text><use href="#earth" x="286" y="159" width="18" height="18"/>
<text x="335" y="118">Z6</text><text x="343" y="137">C</text><text x="333" y="156">N=</text><rect class="b" x="340" y="155" width="10" height="18"/>
<path class="hd" d="M306 165 H405 V185 M450 165 V185 M450 127 V165"/><text x="375" y="168" font-size="19">GRN/YLW</text>
<use href="#earth" x="395" y="185" width="22" height="22"/><use href="#earth" x="440" y="185" width="22" height="22"/>
<rect class="b" x="246" y="211" width="42" height="11"/>
<text x="290" y="190">Z1</text><text x="300" y="209">C</text><text x="290" y="228">N=</text><text x="300" y="248">2</text>
<path class="w" d="M256 179 V1242 M273 179 V255 H328 V1242"/>
<text x="233" y="270">RED</text><text x="310" y="270">BLU</text><text x="235" y="292">LA</text><text x="310" y="292">NA</text>
<rect class="w" x="470" y="155" width="20" height="25"/><rect class="w" x="490" y="155" width="20" height="25"/><rect class="w" x="510" y="155" width="20" height="25"/>
<text x="474" y="175" font-size="22">1</text><text x="494" y="175" font-size="22">2</text><text x="514" y="175" font-size="22">3</text>
<text x="535" y="174">X1M</text><text x="535" y="188">Z2</text><text x="535" y="207">C</text><text x="533" y="226">N=</text><text x="533" y="247">2</text>
<rect class="b" x="468" y="204" width="62" height="11"/>
<path class="w" d="M480 180 V485 H497 M497 180 V440 M497 450 V485 M520 180 V400"/>
<text transform="translate(485,268) rotate(-90)" font-size="18">BLK</text><text transform="translate(503,268) rotate(-90)" font-size="18">BLU</text><text transform="translate(521,268) rotate(-90)" font-size="18">RED</text>
<rect class="t" x="472" y="280" width="55" height="15" fill="#fff"/><g class="t"><circle cx="480" cy="287" r="4"/><circle cx="497" cy="287" r="4"/><circle cx="520" cy="287" r="4"/></g>
<text x="530" y="294">X803A</text>
<use href="#earth" x="630" y="87" width="22" height="22"/><line class="t" x1="641" y1="109" x2="641" y2="125"/>
<rect x="575" y="120" width="36" height="24" fill="none" stroke="#111" stroke-width="3"/><line x1="591" y1="118" x2="591" y2="146" stroke="#111" stroke-width="5"/>
<path class="hd" d="M445 127 H575 M613 132 H690"/><path class="w" d="M690 132 H705"/><path class="b" d="M705 125 L722 132 L705 139 Z"/>
<use href="#house" x="722" y="105" width="40" height="45"/><text x="720" y="164" font-size="19">Indoor</text>
<!-- A2P board -->
<rect class="bd" x="200" y="270" width="785" height="335"/>
<rect class="w" x="251" y="305" width="10" height="22" fill="#fff"/><text x="228" y="323">F2U</text>
<path class="w" d="M256 340 H302 M320 340 H330"/><rect class="w" x="272" y="335" width="22" height="10" fill="#fff"/><text x="270" y="330">F1U</text>
<rect class="cap" x="302" y="318" width="18" height="48" rx="6"/><text transform="translate(317,362) rotate(-90)" font-size="16">Z5F</text>
<text x="158" y="386" font-size="19">GRN</text><use href="#earth" x="150" y="398" width="20" height="20"/>
<path class="w" d="M160 392 H245"/><circle class="t" cx="213" cy="392" r="4"/><text x="210" y="382">E2</text>
<rect class="cap" x="245" y="378" width="95" height="25" rx="4"/><rect class="t" x="260" y="382" width="65" height="17" rx="8"/><text x="280" y="398">Z1F</text>
<rect class="cap" x="245" y="440" width="95" height="25" rx="4"/><rect class="t" x="260" y="444" width="65" height="17" rx="8"/><text x="280" y="460">Z4F</text>
<path class="w" d="M330 425 H408 M433 425 H765 V462 H745 M330 432 H408 M433 432 H480"/>
<rect class="w" x="365" y="409" width="22" height="10" fill="#fff"/><text x="363" y="405">F4U</text>
<rect class="cap" x="408" y="368" width="25" height="110" rx="10"/><text transform="translate(428,442) rotate(-90)" font-size="18">Z3F</text>
<path class="w" d="M420 478 V550 H470 V585 M330 480 H370 V510 M385 530 V545"/>
<rect class="cap" x="355" y="510" width="50" height="20" rx="4"/><text x="365" y="527" font-size="18">Z2F</text>
<rect class="w" x="362" y="545" width="10" height="22" fill="#fff"/><text x="340" y="563">F3U</text>
<path class="w" d="M520 350 H962 V752 M520 400 H600 L625 388 M650 400 H678 V462 M497 462 H530 L550 472 M590 462 H610 M655 462 H698"/>
<rect class="w" x="683" y="345" width="22" height="10" fill="#fff"/><text x="686" y="343">R4</text><text x="610" y="391">K14R</text>
<path class="w" d="M487 440 H507 M487 450 H507 M487 468 H507 M487 476 H507"/><text x="502" y="446">C3</text><text x="502" y="490">C2</text>
<text x="530" y="460">K15R</text><rect class="w" x="568" y="457" width="22" height="10" fill="#fff"/><text x="572" y="453">R3</text>
<rect class="cap" x="610" y="452" width="45" height="20" rx="8"/><text x="622" y="469" font-size="19">TC</text>
<rect class="cap" x="698" y="452" width="45" height="20" rx="8"/><text x="710" y="469" font-size="19">RC</text>
<text x="170" y="597">A2P</text><text x="235" y="597">LB</text><text x="310" y="597">NB</text>
<rect class="t" x="360" y="584" width="38" height="14" fill="#fff"/><text x="400" y="597">X98A</text>
<circle class="t" cx="470" cy="591" r="4"/><text x="475" y="597">E3</text><text x="448" y="619" font-size="18">GRN</text>
<line class="t" x1="465" y1="600" x2="465" y2="645"/><use href="#earth" x="455" y="645" width="20" height="20"/>
<rect class="t" x="772" y="584" width="198" height="14" fill="#fff"/><text x="733" y="597">X802A</text>
<rect class="b" x="772" y="634" width="198" height="11"/>
<path class="t" d="M780 598 V684 M800 598 V684 M820 598 V684 M840 598 V684 M860 598 V684 M880 598 V684 M900 598 V684 M920 598 V684 M940 598 V684 M960 598 V684"/>
<text x="750" y="619">Z5</text><text x="757" y="637">C</text><text x="746" y="657">N=</text><text x="758" y="675">1</text>
<rect class="t" x="772" y="684" width="198" height="14" fill="#fff"/><text x="733" y="697">X801A</text>
<rect class="b" x="248" y="634" width="88" height="11"/>
<text x="225" y="617">Z3</text><text x="243" y="619">RED</text><text x="310" y="619">BLU</text><text x="233" y="637">C</text><text x="225" y="656">N=</text><text x="235" y="675">2</text>
<path class="w" d="M365 598 V684 M392 598 V684"/>
<!-- A1P -->
<rect class="bd" x="118" y="677" width="1200" height="545"/>
<text x="235" y="697">LC</text><text x="310" y="697">NC</text>
<rect class="t" x="360" y="684" width="38" height="14" fill="#fff"/><text x="400" y="697">X99A</text>
<rect class="w" x="1050" y="638" width="40" height="20"/><text x="1055" y="655" font-size="18">Y1S</text>
<path class="w" d="M1062 658 V684 M1078 658 V684 M1226 560 V684 M1254 560 V684 M1226 410 V395 H1252 V537 M1226 395 V537"/>
<rect class="t" x="1050" y="684" width="38" height="14" fill="#fff"/><text x="1093" y="697">X25A</text>
<rect class="t" x="1220" y="684" width="38" height="14" fill="#fff"/><text x="1262" y="697">X28A</text>
<text x="1030" y="724">K1R</text><text x="1198" y="724">K4R</text>
<rect class="w" x="1178" y="355" width="127" height="230"/><rect class="t" x="1187" y="363" width="110" height="213"/>
<text x="1198" y="351" font-size="19">SEE NOTE 7</text>
<rect class="w" x="1242" y="395" width="20" height="95" fill="#fff"/><path class="t" d="M1242 420 H1262 M1242 445 H1262 M1242 468 H1262"/><text x="1267" y="452" font-size="18">E1H</text>
<rect class="w" x="1222" y="537" width="8" height="22" fill="#fff"/><rect class="w" x="1250" y="537" width="8" height="22" fill="#fff"/>
<text x="1196" y="555" font-size="17">F7U</text><text x="1260" y="555" font-size="17">F8U</text>
<path class="w" d="M365 740 H1255 M395 750 H962 M1062 698 V740 M1080 698 V750 M1226 698 V740 M1254 698 V745"/>
<text x="218" y="747">K11M</text><text x="290" y="747">K10R</text>
<path class="w" d="M256 718 H290 V765 M290 787 V805 H256 M290 735 L278 745"/><rect class="w" x="285" y="765" width="10" height="22" fill="#fff"/><text x="296" y="785">R1</text>
<path class="w" d="M395 698 V785 H625 M365 698 V800 H473 M473 755 V815 L500 800 M500 800 H560 M582 800 H625 M530 800 V840"/>
<rect class="cap" x="625" y="783" width="45" height="22" rx="8"/><text x="637" y="800" font-size="19">PS</text>
<text x="483" y="834">K13R</text><rect class="w" x="560" y="795" width="22" height="10" fill="#fff"/><text x="563" y="822">R5</text>
<path class="b" d="M524 832 L536 832 L530 842 Z"/><text x="538" y="845">V4D</text>
<rect class="cap" x="245" y="825" width="95" height="25" rx="4"/><rect class="t" x="260" y="829" width="65" height="17" rx="8"/><text x="280" y="845">Z6F</text>
<rect class="cap" x="245" y="875" width="95" height="25"/><path class="t" d="M280 887 H305 M285 880 V894 L297 887 Z"/><text x="218" y="892">V2R</text>
<path class="w" d="M365 800 V870 H422 M365 910 H422 M368 850 V1035 H605 V1200 M256 1085 H580 V1200"/>
<rect class="t" x="422" y="870" width="14" height="45" fill="#fff"/><rect class="t" x="440" y="862" width="22" height="115"/><rect class="t" x="468" y="870" width="14" height="45" fill="#fff"/><rect class="t" x="468" y="925" width="14" height="45" fill="#fff"/>
<text x="382" y="911">X804A</text><text x="485" y="911">X805A</text><text x="485" y="970">X806A</text>
<circle class="t" cx="667" cy="872" r="5"/><text x="676" y="882" font-size="19">HAP</text>
<rect class="w" x="650" y="910" width="232" height="122"/>
<text x="683" y="927" font-size="19">H2P</text><text x="738" y="927" font-size="19">H4P</text><text x="792" y="927" font-size="19">H6P</text>
<g class="t"><circle cx="665" cy="938" r="5"/><circle cx="692" cy="938" r="5"/><circle cx="720" cy="938" r="5"/><circle cx="746" cy="938" r="5"/><circle cx="774" cy="938" r="5"/><circle cx="801" cy="938" r="5"/><circle cx="828" cy="938" r="5"/></g>
<text x="655" y="959" font-size="19">H1P</text><text x="710" y="959" font-size="19">H3P</text><text x="764" y="959" font-size="19">H5P</text><text x="818" y="959" font-size="19">H7P</text>
<g class="t"><rect x="658" y="980" width="16" height="16"/><rect x="700" y="980" width="16" height="16"/><rect x="740" y="980" width="16" height="16"/><rect x="781" y="980" width="16" height="16"/></g>
<text x="655" y="1013" font-size="18">BS1</text><text x="697" y="1013" font-size="18">BS2</text><text x="737" y="1013" font-size="18">BS3</text><text x="778" y="1013" font-size="18">BS4</text>
<text x="848" y="977" font-size="18">DS1</text><rect class="w" x="845" y="980" width="30" height="33"/><rect class="b" x="848" y="993" width="11" height="17"/><rect class="b" x="862" y="993" width="11" height="17"/>
<text x="830" y="995" font-size="18">ON</text><text x="823" y="1011" font-size="18">OF</text><text x="850" y="1026" font-size="18">1 2</text>
<rect class="t" x="948" y="920" width="268" height="76"/>
<text x="962" y="938" font-size="19">R1T</text><text x="1010" y="938" font-size="19">R2T</text><text x="1052" y="938" font-size="19">R3T</text><text x="1093" y="938" font-size="19">R4T</text><text x="1133" y="938" font-size="19">R5T</text><text x="1182" y="938" font-size="19">R6T</text>
<use href="#therm" x="960" y="945" width="30" height="33"/><use href="#therm" x="1008" y="945" width="30" height="33"/><use href="#therm" x="1050" y="945" width="30" height="33"/><use href="#therm" x="1090" y="945" width="30" height="33"/><use href="#therm" x="1130" y="945" width="30" height="33"/><use href="#therm" x="1180" y="945" width="30" height="33"/>
<rect class="t" x="950" y="997" width="50" height="14" fill="#fff"/><rect class="t" x="1005" y="997" width="155" height="14" fill="#fff"/><rect class="t" x="1175" y="997" width="42" height="14" fill="#fff"/>
<text x="958" y="1028" font-size="19">X11A</text><text x="1068" y="1028" font-size="19">X12A</text><text x="1178" y="1028" font-size="19">X13A</text>
<rect class="t" x="1298" y="933" width="14" height="52" fill="#fff"/><text x="1263" y="967">X21A</text>
<path class="t" d="M1312 940 L1350 960 M1312 950 L1350 960 M1312 960 H1365 M1312 970 L1350 960 M1312 980 L1350 960"/>
<circle cx="1380" cy="960" r="14" fill="#fff" stroke="#222" stroke-width="2"/><text x="1372" y="967" font-size="18">M</text><text x="1368" y="940">Y1E</text><text x="1346" y="955" font-size="18">6</text>
<rect class="t" x="1298" y="725" width="14" height="50" fill="#fff"/><text x="1263" y="757">X31A</text>
<path class="t" d="M1312 732 H1368 V745 M1312 768 H1368 V758 M1360 745 L1375 755"/><rect class="t" x="1375" y="745" width="18" height="14"/><text x="1367" y="737" font-size="18">S1PL</text>
<rect class="t" x="1298" y="797" width="14" height="50" fill="#fff"/><text x="1263" y="832">X32A</text>
<path class="t" d="M1312 804 H1368 V817 M1312 840 H1368 V830 M1360 817 L1375 827"/><rect class="t" x="1375" y="817" width="18" height="14"/><text x="1367" y="810" font-size="18">S1PH</text>
<path class="t" d="M160 913 V965 M205 913 V965 M250 913 V965 M160 913 H256 M160 1000 V1025 M205 965 V1000 M250 965 V1000 M160 965 V1000 M160 1063 H345 M160 1025 V1063 M205 1025 V1063 M250 1025 V1063 M205 1000 H328 M160 1025 H328"/>
<path class="t" d="M160 920 q10 6 0 12 q10 6 0 12 q10 6 0 12 M205 920 q10 6 0 12 q10 6 0 12 q10 6 0 12 M250 920 q10 6 0 12 q10 6 0 12 q10 6 0 12"/>
<text x="133" y="947">L1R</text><text x="178" y="947">L2R</text><text x="225" y="947">L3R</text>
<circle class="t" cx="290" cy="966" r="8"/><text x="300" y="973" font-size="19">V3T</text>
<circle class="t" cx="290" cy="992" r="8"/><text x="300" y="999" font-size="19">V2T</text>
<circle class="t" cx="290" cy="1017" r="8"/><text x="300" y="1024" font-size="19">V1T</text>
<text x="133" y="1052" font-size="19">V1D</text><text x="180" y="1052" font-size="19">V2D</text><text x="228" y="1052" font-size="19">V3D</text>
<path class="w" d="M285 1052 V1070 M292 1052 V1070"/><text x="296" y="1066" font-size="19">C1</text>
<rect class="w" x="357" y="1080" width="22" height="10" fill="#fff"/><text x="358" y="1110" font-size="19">F6U</text>
<rect class="w" x="324" y="1115" width="10" height="22" fill="#fff"/><text x="338" y="1135" font-size="19">R2</text>
<rect class="cap" x="245" y="1155" width="95" height="25"/><path class="t" d="M285 1159 V1176 M275 1167 H285 M285 1163 L298 1158 M285 1172 L298 1177"/><text x="345" y="1174">V1R</text>
<text x="90" y="1140" font-size="19">GRN</text><text x="125" y="1132" font-size="19">E1</text><circle class="t" cx="128" cy="1140" r="4"/>
<path class="t" d="M90 1145 H125"/><use href="#earth" x="80" y="1152" width="20" height="20"/>
<text x="90" y="1214">A1P</text><text x="246" y="1214" font-size="19">U</text><text x="284" y="1214" font-size="19">V</text><text x="318" y="1214" font-size="19">W</text>
<path class="w" d="M256 1180 V1280 M290 1180 V1280 M328 1180 V1280"/>
<rect class="t" x="410" y="1200" width="95" height="15" fill="#fff"/><g class="t"><circle cx="418" cy="1207" r="4"/><circle cx="438" cy="1207" r="4"/><circle cx="458" cy="1207" r="4"/><circle cx="478" cy="1207" r="4"/><circle cx="498" cy="1207" r="4"/></g>
<text x="468" y="1196" font-size="19">X106A</text>
<rect class="t" x="578" y="1200" width="95" height="15" fill="#fff"/><g class="t"><circle cx="586" cy="1207" r="4"/><circle cx="606" cy="1207" r="4"/><circle cx="626" cy="1207" r="4"/><circle cx="646" cy="1207" r="4"/><circle cx="666" cy="1207" r="4"/></g>
<text x="636" y="1196" font-size="19">X107A</text>
<path class="t" d="M418 1215 V1260 M438 1215 V1250 M458 1215 V1270 H440 M478 1215 V1275 H440 M498 1215 V1280 H435 M586 1215 V1260 M606 1215 V1250 M626 1215 V1270 H608 M646 1215 V1275 H608 M666 1215 V1280 H603"/>
<use href="#mot" x="412" y="1250" width="36" height="36"/><text x="390" y="1292" font-size="19">M1F</text>
<use href="#mot" x="580" y="1250" width="36" height="36"/><text x="558" y="1292" font-size="19">M2F</text>
<rect class="t" x="828" y="1098" width="45" height="62"/><text x="838" y="1115" font-size="19">R7T</text><use href="#therm" x="836" y="1122" width="30" height="30"/>
<rect class="t" x="828" y="1172" width="45" height="14" fill="#fff"/><text x="830" y="1203" font-size="19">X111A</text>
<rect class="t" x="952" y="1200" width="125" height="14" fill="#fff"/><text x="1005" y="1196" font-size="19">X6A</text>
<rect class="t" x="1180" y="1200" width="38" height="14" fill="#fff"/><text x="1222" y="1213" font-size="19">X77A</text>
<path class="t" d="M1065 1214 L1215 1265 M1205 1214 L1215 1265 M1215 1265 H1250"/><text x="1257" y="1272" font-size="19">SEE NOTE 7</text>
<rect class="b" x="248" y="1240" width="90" height="11"/>
<text x="342" y="1224" font-size="19">Z4</text><text x="342" y="1242" font-size="19">C</text><text x="342" y="1260" font-size="19">N=</text>
<text x="233" y="1274" font-size="19">RED</text><text x="270" y="1274" font-size="19">WHT</text><text x="308" y="1274" font-size="19">BLU</text>
<rect class="t" x="255" y="1276" width="80" height="8"/><text x="335" y="1289" font-size="19">X502A</text>
<text x="248" y="1302" font-size="19">U</text><text x="286" y="1302" font-size="19">V</text><text x="322" y="1302" font-size="19">W</text>
<use href="#mot" x="278" y="1298" width="34" height="34"/><text x="256" y="1338" font-size="19">M1C</text>
<path class="t" d="M300 1340 L330 1400 M300 1340 L345 1330"/>
<rect class="w" x="333" y="1320" width="382" height="160"/>
<text x="440" y="1342" font-size="14">Position of compressor terminal</text>
<path class="w" d="M470 1360 H590 V1460 H510 V1390 M470 1360 V1460"/>
<rect class="t" x="485" y="1353" width="16" height="14"/><rect class="t" x="518" y="1353" width="16" height="14"/>
<circle class="w" cx="545" cy="1413" r="22"/><circle class="t" cx="545" cy="1413" r="8"/>
<text x="556" y="1395" font-size="17">U</text><text x="518" y="1415" font-size="17">V</text><text x="557" y="1450" font-size="17">W</text>
<text x="50" y="1512" font-size="26">2D088865C</text>
<text x="1368" y="105" font-size="12">Electronic component assembly</text><text x="1428" y="123" font-size="12">Position of elements</text>
<rect class="t" x="1447" y="143" width="75" height="95"/><rect class="t" x="1458" y="150" width="60" height="82"/>
<circle class="t" cx="1480" cy="164" r="3"/><text x="1486" y="170" font-size="16">HAP</text><text x="1480" y="196" font-size="16">A1P</text>
<text x="1447" y="250" font-size="15">*X1M</text><text x="1457" y="284" font-size="13">Front view</text>
<path class="t" d="M1447 325 H1522 V440 H1480 V425 H1447 Z"/><rect class="t" x="1482" y="355" width="37" height="50"/><text x="1488" y="388" font-size="16">A2P</text>
<text x="1458" y="465" font-size="13">Rear view</text>
<use href="#house" x="1328" y="243" width="40" height="45"/><text x="1325" y="302" font-size="19">Outdoor</text>
<g font-size="15.5">
<text x="792" y="1287" font-size="17">Notes</text>
<text x="792" y="1310">1.  L: Live</text><text x="1053" y="1310">N: Neutral</text>
<use href="#earth" x="1310" y="1296" width="16" height="16"/><text x="1350" y="1310">Protective earth</text>
<path class="t" d="M1582 1312 H1604 M1585 1312 q8 -12 16 0"/><text x="1625" y="1310">Noiseless earth</text>
<rect class="t" x="815" y="1323" width="28" height="12"/><rect class="b" x="817" y="1323" width="5" height="12"/><rect class="b" x="836" y="1323" width="5" height="12"/><text x="855" y="1335">Field wiring</text>
<path class="t" d="M1310 1325 H1340 M1310 1331 H1340" stroke-dasharray="6 3"/><text x="1350" y="1335">Option</text>
<rect class="t" x="815" y="1348" width="28" height="10"/><text x="855" y="1358">Terminal strip</text>
<line class="t" x1="1055" y1="1353" x2="1085" y2="1353"/><circle class="t" cx="1068" cy="1353" r="4"/><text x="1090" y="1358">Terminal</text>
<rect class="t" x="1310" y="1348" width="28" height="10"/><text x="1350" y="1358">Connector</text>
<line class="t" x1="1585" y1="1353" x2="1615" y2="1353"/><circle class="b" cx="1600" cy="1353" r="3"/><text x="1625" y="1358">Connection</text>
<text x="792" y="1382">2.  Colours: blk:black; red:red; blu:blue; wht:white; grn:green; ylw:yellow; brn:brown; org:orange; pnk:pink</text>
<text x="792" y="1406">3.  This wiring diagram applies only to the outdoor unit.</text>
<text x="792" y="1430">4.  Refer to the wiring diagram sticker (on the back of the front plate) for how to use the BS1 - BS4 and DS1 switches.</text>
<text x="792" y="1454">5.  When operating, do not short-circuit protection device(s) S1PH, S1PL.</text>
<text x="792" y="1478">6.  Refer to the service manual for instructions on how to set the selector switches (DS1). The factory setting of all switches is OFF.</text>
<text x="792" y="1502">7.  Refer to the combination table and the option manual for how to connect the wiring to __________ and __________.</text>
</g>
</g>
</svg>
</body></html>
